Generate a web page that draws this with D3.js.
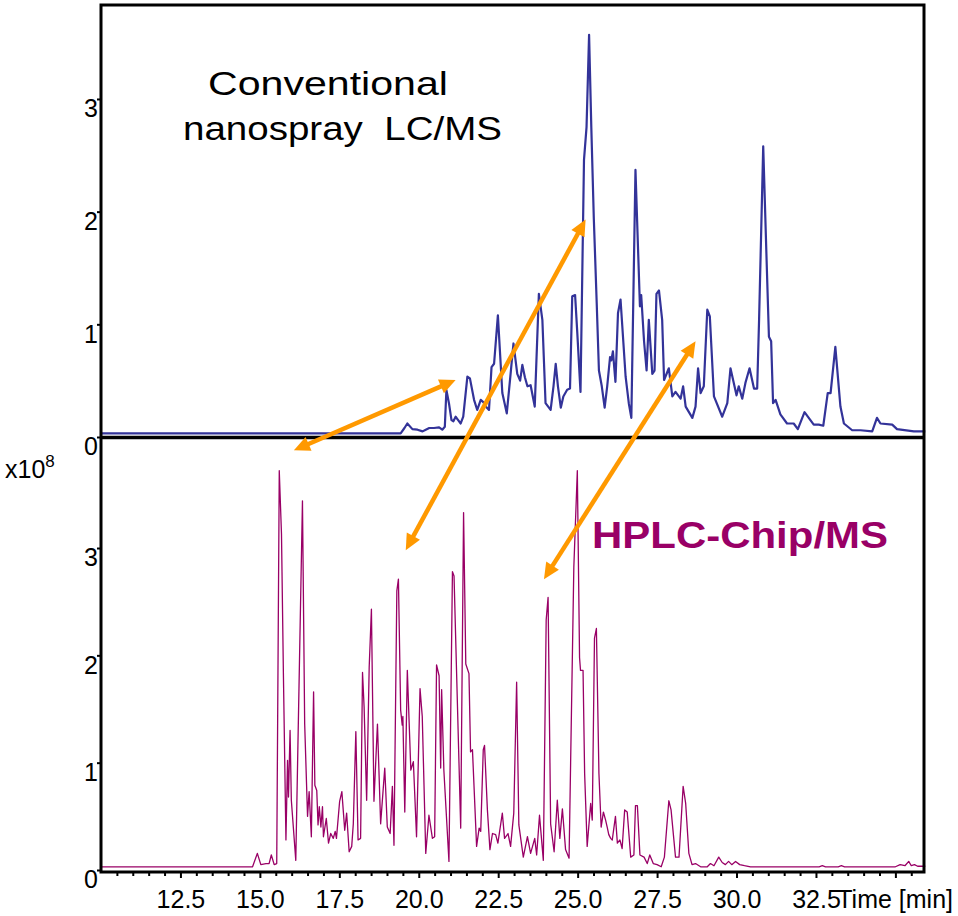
<!DOCTYPE html>
<html><head><meta charset="utf-8">
<script src="https://cdn.jsdelivr.net/npm/d3@7"></script>
<style>
body{margin:0;background:#fff}
text{font-family:"Liberation Sans",Arial,Helvetica,sans-serif}
</style>
</head><body>
<svg id="chart" width="958" height="916"></svg>
<script>
// ---------- DATA (intensity in units of 1e8 counts, time in minutes) ----------
const convTime = [10.0,19.43,19.55,19.64,19.80,19.96,20.12,20.22,20.33,20.48,20.64,20.74,20.82,20.87,20.95,21.03,21.09,21.16,21.24,21.32,21.40,21.53,21.61,21.74,21.84,21.95,22.03,22.11,22.21,22.29,22.37,22.49,22.63,22.77,22.89,22.98,23.10,23.19,23.26,23.34,23.42,23.52,23.65,23.78,23.89,23.99,24.15,24.24,24.31,24.38,24.47,24.55,24.67,24.76,24.83,24.92,24.99,25.09,25.20,25.28,25.36,25.43,25.51,25.60,25.67,25.76,25.85,25.93,26.02,26.06,26.11,26.19,26.27,26.35,26.51,26.61,26.69,26.82,26.96,27.00,27.09,27.17,27.24,27.35,27.42,27.48,27.56,27.66,27.72,27.87,27.98,28.08,28.24,28.32,28.40,28.61,28.71,28.79,28.87,28.97,29.08,29.16,29.29,29.55,29.71,29.81,30.00,30.07,30.18,30.28,30.41,30.55,30.65,30.71,30.84,30.94,31.02,31.09,31.15,31.23,31.38,31.59,31.80,31.93,32.14,32.43,32.59,32.73,32.87,32.96,33.11,33.27,33.38,33.64,33.90,34.27,34.42,34.53,34.90,35.05,35.58,35.94];
const convIntensity = [0.033,0.033,0.08,0.12,0.07,0.065,0.05,0.065,0.08,0.08,0.085,0.065,0.09,0.417,0.30,0.15,0.14,0.18,0.15,0.12,0.18,0.535,0.52,0.33,0.24,0.33,0.31,0.27,0.24,0.62,0.65,1.08,0.39,0.21,0.56,0.83,0.56,0.50,0.64,0.53,0.45,0.46,0.27,1.27,1.04,0.30,0.24,0.45,0.65,0.45,0.26,0.36,0.42,0.43,1.25,1.26,0.92,0.40,2.46,2.75,3.57,2.75,1.93,1.19,0.59,0.45,0.26,0.45,0.71,0.68,0.76,0.49,1.10,1.22,0.535,0.30,0.17,2.37,1.16,1.26,0.85,0.59,1.04,0.56,0.59,1.27,1.30,1.04,0.506,0.61,0.36,0.40,0.34,0.45,0.27,0.17,0.27,0.61,0.39,0.45,1.13,1.07,0.36,0.18,0.30,0.61,0.37,0.45,0.34,0.48,0.61,0.43,0.43,1.04,2.58,1.63,0.89,0.85,0.30,0.33,0.20,0.12,0.12,0.07,0.22,0.11,0.11,0.10,0.39,0.39,0.80,0.27,0.12,0.06,0.06,0.05,0.17,0.12,0.11,0.07,0.05,0.05];

const chipTime = [10.0,14.77,14.92,15.03,15.19,15.29,15.36,15.45,15.53,15.61,15.68,15.74,15.82,15.87,15.90,15.95,15.99,16.13,16.34,16.41,16.50,16.55,16.62,16.69,16.73,16.79,16.83,16.87,16.92,16.97,17.00,17.09,17.16,17.23,17.31,17.37,17.41,17.51,17.58,17.67,17.73,17.81,17.89,17.94,18.02,18.09,18.17,18.23,18.28,18.36,18.44,18.51,18.59,18.70,18.80,18.93,19.01,19.10,19.17,19.22,19.31,19.36,19.43,19.48,19.50,19.56,19.64,19.75,19.83,19.93,20.04,20.11,20.22,20.32,20.43,20.50,20.56,20.64,20.69,20.72,20.79,20.95,21.06,21.11,21.32,21.41,21.48,21.58,21.63,21.69,21.82,21.90,21.95,22.03,22.07,22.16,22.24,22.32,22.42,22.49,22.63,22.70,22.81,22.89,22.99,23.08,23.15,23.29,23.42,23.52,23.65,23.71,23.80,23.92,24.01,24.07,24.15,24.26,24.36,24.44,24.52,24.62,24.73,24.88,24.99,25.06,25.09,25.17,25.22,25.30,25.41,25.46,25.53,25.59,25.67,25.74,25.81,25.88,25.93,25.98,26.04,26.09,26.19,26.25,26.33,26.40,26.48,26.56,26.67,26.77,26.82,26.88,26.96,27.09,27.19,27.27,27.38,27.50,27.63,27.73,27.87,27.94,28.08,28.19,28.32,28.40,28.50,28.60,28.71,28.87,29.08,29.18,29.29,29.44,29.55,29.65,29.75,29.85,29.97,30.10,30.25,30.44,32.60,32.70,32.80,33.20,33.30,33.40,35.00,35.15,35.30,35.42,35.50,35.60,35.70,35.94];
const chipIntensity = [0.03,0.03,0.155,0.05,0.06,0.06,0.14,0.05,0.06,3.72,3.13,1.83,0.28,1.02,0.68,1.30,0.65,0.09,3.44,1.36,0.50,0.73,0.31,1.66,0.79,0.74,0.42,0.59,0.40,0.59,0.31,0.48,0.25,0.34,0.295,0.36,0.295,0.64,0.73,0.37,0.53,0.17,0.22,0.43,1.29,0.28,0.295,1.84,1.52,0.65,1.89,2.43,0.64,1.36,0.43,0.95,0.40,0.34,0.78,0.23,2.60,2.71,1.49,1.35,1.43,0.54,1.86,0.93,1.01,0.31,1.69,1.43,0.155,0.51,0.295,0.31,1.91,1.81,0.95,1.68,0.93,0.08,2.78,2.74,0.39,3.33,1.92,1.83,1.10,1.12,0.22,0.39,0.36,1.12,1.16,0.56,0.19,0.34,0.33,0.25,0.53,0.295,0.34,0.22,0.53,1.75,0.42,0.12,0.31,0.155,0.295,0.14,0.51,0.09,2.33,2.54,0.43,0.17,0.65,0.295,0.57,0.19,0.11,2.82,3.72,1.98,1.86,1.86,0.90,0.22,0.62,0.465,2.16,2.25,0.90,0.40,0.54,0.465,0.40,0.33,0.295,0.28,0.50,0.25,0.28,0.20,0.56,0.54,0.12,0.14,0.60,0.60,0.14,0.12,0.06,0.14,0.06,0.05,0.03,0.12,0.645,0.56,0.12,0.12,0.78,0.62,0.155,0.05,0.06,0.03,0.03,0.06,0.04,0.12,0.07,0.05,0.08,0.05,0.08,0.05,0.04,0.03,0.03,0.04,0.03,0.03,0.04,0.03,0.03,0.05,0.04,0.08,0.04,0.05,0.035,0.035];

const xTickLabels = [12.5,15.0,17.5,20.0,22.5,25.0,27.5,30.0,32.5];
const xMajorTicks = [12.5,15.0,17.5,20.0,22.5,25.0,27.5,30.0,32.5,35.0];
const yTickLabels = [0,1,2,3];

// arrows: bottom panel (time, value) <-> top panel (time, value)
const arrowBottomTime = [16.07,19.59,23.94];
const arrowBottomValue = [3.91,2.98,2.71];
const arrowTopTime = [21.16,25.25,28.71];
const arrowTopValue = [0.506,1.93,0.85];

// ---------- LAYOUT ----------
const svg = d3.select("#chart");
const L = 101, R = 924, TOP = 5, MID = 437.5, BOT = 872;
const x = d3.scaleLinear().domain([10, 35.9]).range([L, R]);
const yTop = d3.scaleLinear().domain([0, 3.834]).range([437, TOP]);
const yBot = d3.scaleLinear().domain([0, 4.025]).range([870, 438]);

const blue = "#333399", purple = "#990066", orange = "#FF9900";

// lines
const lineTop = d3.line().x(d => x(d[0])).y(d => yTop(d[1]));
const lineBot = d3.line().x(d => x(d[0])).y(d => yBot(d[1]));
svg.append("path").datum(d3.zip(convTime, convIntensity))
  .attr("d", lineTop).attr("fill","none").attr("stroke",blue).attr("stroke-width",2.2).attr("stroke-linejoin","round");
svg.append("path").datum(d3.zip(chipTime, chipIntensity))
  .attr("d", lineBot).attr("fill","none").attr("stroke",purple).attr("stroke-width",1.3).attr("stroke-linejoin","round");

// y axes
function yAxis(scale, maxMinor) {
  const g = svg.append("g").attr("transform", `translate(${L},0)`);
  g.call(d3.axisLeft(scale).tickValues(d3.range(0, maxMinor + 0.001, 0.2)).tickSize(3).tickFormat(""));
  g.call(d3.axisLeft(scale).tickValues(yTickLabels).tickSize(4).tickPadding(0).tickFormat(d3.format("d")));
  g.select(".domain").remove();
  g.selectAll("line").attr("stroke","#000").attr("stroke-width",2);
  g.selectAll("text").attr("font-size",25).attr("font-family","Liberation Sans, Arial, sans-serif")
    .attr("x",-3).attr("y",9).attr("dy","0.35em").attr("fill","#000");
  return g;
}
yAxis(yTop, 3.8);
yAxis(yBot, 3.8);

// x axis
const gx = svg.append("g").attr("transform", `translate(0,${BOT})`);
gx.call(d3.axisBottom(x).tickValues(d3.range(10.5, 35.9, 0.5).filter(v => v % 2.5 !== 0)).tickSize(4).tickFormat(""));
const gxm = svg.append("g").attr("transform", `translate(0,${BOT})`);
gxm.call(d3.axisBottom(x).tickValues(xMajorTicks).tickSize(6).tickPadding(12)
  .tickFormat(d => xTickLabels.includes(d) ? d3.format(".1f")(d) : ""));
gx.select(".domain").remove(); gxm.select(".domain").remove();
svg.selectAll("g line").attr("stroke","#000").attr("stroke-width",2);
gxm.selectAll("text").attr("font-size",25).attr("font-family","Liberation Sans, Arial, sans-serif").attr("fill","#000");

svg.append("text").attr("x", x(35.9) + 29).attr("y", 908).attr("text-anchor","end")
  .attr("font-size",25).text("Time [min]");

// frame
svg.append("rect").attr("x",L).attr("y",TOP).attr("width",R-L).attr("height",BOT-TOP)
  .attr("fill","none").attr("stroke","#000").attr("stroke-width",3);
svg.append("line").attr("x1",L).attr("x2",R).attr("y1",MID).attr("y2",MID)
  .attr("stroke","#000").attr("stroke-width",3.5);

// x10^8
const ex = svg.append("text").attr("x",5).attr("y",478).attr("font-size",25);
ex.append("tspan").text("x10");
ex.append("tspan").attr("font-size",17).attr("dy",-11).text("8");

// arrows
function arrow(x1,y1,x2,y2){
  const dx=x2-x1, dy=y2-y1, len=Math.hypot(dx,dy), ux=dx/len, uy=dy/len;
  const hl=16, hw=7.5;
  svg.append("line").attr("x1",x1+ux*hl*0.8).attr("y1",y1+uy*hl*0.8)
    .attr("x2",x2-ux*hl*0.8).attr("y2",y2-uy*hl*0.8)
    .attr("stroke",orange).attr("stroke-width",4.5);
  function head(px,py,sx,sy){
    const bx=px-sx*hl, by=py-sy*hl;
    svg.append("path").attr("d",`M${px},${py}L${bx-sy*hw},${by+sx*hw}L${bx+sy*hw},${by-sx*hw}Z`).attr("fill",orange);
  }
  head(x2,y2,ux,uy); head(x1,y1,-ux,-uy);
}
arrowBottomTime.forEach((t,i) => arrow(x(t), yBot(arrowBottomValue[i]), x(arrowTopTime[i]), yTop(arrowTopValue[i])));

// labels
svg.append("text").attr("x",208).attr("y",95).attr("font-size",34)
  .attr("textLength",240).attr("lengthAdjust","spacingAndGlyphs").text("Conventional");
svg.append("text").attr("x",183).attr("y",140).attr("font-size",34).style("white-space","pre")
  .attr("textLength",319).attr("lengthAdjust","spacingAndGlyphs").text("nanospray  LC/MS");
svg.append("text").attr("x",592).attr("y",548).attr("font-size",37).attr("font-weight","bold")
  .attr("fill",purple).attr("textLength",296).attr("lengthAdjust","spacingAndGlyphs").text("HPLC-Chip/MS");
</script>
</body></html>
